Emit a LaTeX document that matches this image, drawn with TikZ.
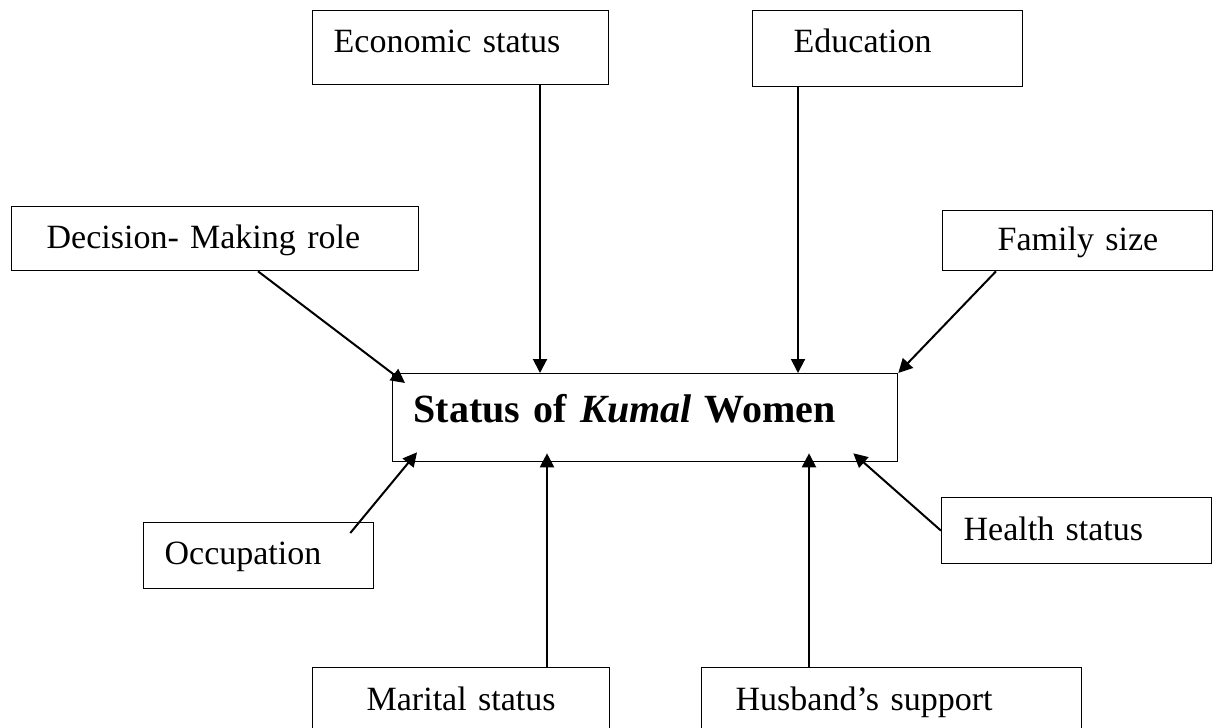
\documentclass[tikz,border=0pt]{standalone}
\usepackage{fontspec}
\setmainfont{Liberation Serif}
\usetikzlibrary{arrows.meta,calc}
\tikzset{>={Triangle[length=7pt,width=7pt]}}
\tikzset{factor/.style={draw,line width=0.65pt,anchor=north west,inner sep=0pt,align=left,font=\fontsize{17}{20}\selectfont},
  link/.style={->,line width=1pt}}

\begin{document}
\begin{tikzpicture}[x=0.5pt,y=-0.5pt]
\useasboundingbox (0,0) rectangle (1218,727);
\clip (0,0) rectangle (1218,727);
\node[factor,text width=148pt,text height=21pt,text depth=16pt] (econ) at (312,10) {\hspace*{10.5pt}Economic status};
\node[factor,text width=135pt,text height=21pt,text depth=17pt] (edu) at (752,10) {\hspace*{20.5pt}Education};
\node[factor,text width=203.5pt,text height=21pt,text depth=11pt] (dec) at (11,206) {\hspace*{17.5pt}Decision- Making role};
\node[factor,text width=135pt,text height=20pt,text depth=10pt] (fam) at (942,210) {\hspace*{27.5pt}Family size};
\node[factor,text width=252.5pt,text height=24.5pt,text depth=19.5pt,font=\fontsize{20}{24}\selectfont\bfseries] (status) at (392,373) {\hspace*{10.5pt}Status of \textit{Kumal} Women};
\node[factor,text width=115pt,text height=21pt,text depth=12pt] (occ) at (143,522) {\hspace*{10.5pt}Occupation};
\node[factor,text width=135pt,text height=21.5pt,text depth=11.5pt] (health) at (941,497) {\hspace*{11pt}Health status};
\node[factor,text width=148.5pt,text height=21.5pt,text depth=20pt] (mar) at (312,667) {\hspace*{27pt}Marital status};
\node[factor,text width=190pt,text height=21.5pt,text depth=20pt] (hus) at (701,667) {\hspace*{17pt}Husband’s support};
\coordinate (c1) at (540,0);
\coordinate (c2) at (798,0);
\coordinate (c3) at (547,0);
\coordinate (c4) at (809,0);
\draw[link] (econ.south -| c1) -- (status.north -| c1);
\draw[link] (edu.south -| c2) -- (status.north -| c2);
\draw[link] (mar.north -| c3) -- ($(status.south -| c3)+(0,-9)$);
\draw[link] (hus.north -| c4) -- ($(status.south -| c4)+(0,-9)$);
\draw[link] ($(dec.south west)+(247,0)$) -- ($(status.north west)+(13,10)$);
\draw[link] ($(fam.south west)+(54,0)$) -- (status.north east);
\draw[link] ($(occ.north east)+(-24,11)$) -- ($(status.south west)+(25,-10)$);
\draw[link] (health.west) -- ($(status.south east)+(-45,-9)$);
\end{tikzpicture}
\end{document}
